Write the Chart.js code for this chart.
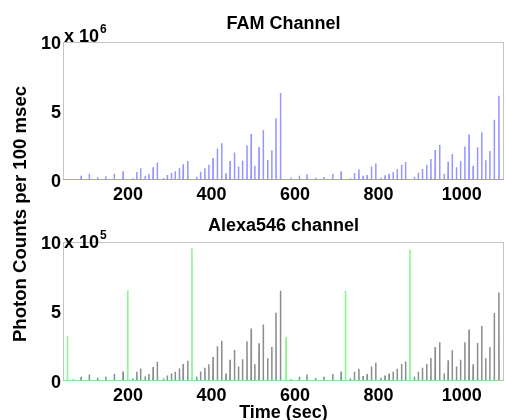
<!DOCTYPE html>
<html><head><meta charset="utf-8">
<script src="https://cdn.jsdelivr.net/npm/chart.js@4.4.0/dist/chart.umd.min.js"></script>
<style>
html,body{margin:0;padding:0;background:#fff;}
#wrap{position:relative;width:506px;height:420px;overflow:hidden;font-family:'Liberation Sans',Arial,sans-serif;}
canvas{position:absolute;left:0;}
.t{position:absolute;font-weight:bold;color:#000;white-space:nowrap;font-family:'Liberation Sans',Arial,sans-serif;}
</style></head><body>
<div id="wrap">
<canvas id="c1" width="506" height="205" style="top:0;width:506px;height:205px"></canvas>
<canvas id="c2" width="506" height="219" style="top:205px;width:506px;height:219px"></canvas>
<div class="t" style="left:63px;width:441px;text-align:center;top:14px;font-size:18px;line-height:18px">FAM Channel</div>
<div class="t" style="left:63px;width:441px;text-align:center;top:216px;font-size:18px;line-height:18px">Alexa546 channel</div>
<div class="t" style="left:64px;top:27px;font-size:18px;line-height:18px">x 10</div>
<div class="t" style="left:100px;top:23px;font-size:12px;line-height:12px">6</div>
<div class="t" style="left:64px;top:233px;font-size:18px;line-height:18px">x 10</div>
<div class="t" style="left:100px;top:229px;font-size:12px;line-height:12px">5</div>
<div class="t" style="left:-129.7px;top:204.5px;width:300px;height:18px;text-align:center;font-size:18.6px;line-height:18px;transform:rotate(-90deg)">Photon Counts per 100 msec</div>
</div>
<script>
// Pulse times (sec), shared by both channels
const spikeTimes = [
  67.5, 87.4, 107, 127, 146.5, 167, 188,
  211, 221, 230, 241, 250, 260, 270, 285, 294, 304, 313, 323, 332, 343,
  364.5, 373.7, 384, 393.5, 403.6, 414, 424.4, 434.7, 444.3, 455, 464.7, 474.3, 485, 495, 503.7, 513.8, 524, 534.6, 544.4, 554.5, 565.3,
  590.7, 610.6, 628.8, 649.5, 669.5, 690.6, 710.6,
  732.7, 742.5, 753.2, 763.3, 773, 783.3, 793.6, 806, 815.8, 825.5, 835.4, 845, 855.5, 865.1,
  886.2, 895.6, 905.5, 915.7, 925.8, 936, 946.8, 957.6, 967.1, 976.9, 987.1, 996.9, 1007.1, 1017.2, 1027, 1037.5, 1047.6, 1057.2, 1067, 1077.7, 1088.8
];
// FAM channel counts (x 10^6)
const famCounts = [
  0.07, 0.3, 0.45, 0.2, 0.27, 0.46, 0.63,
  0.12, 0.58, 0.85, 0.3, 0.46, 0.92, 1.26, 0.15, 0.36, 0.5, 0.63, 0.85, 1.14, 1.38,
  0.24, 0.6, 0.85, 1.1, 1.6, 2.28, 2.66, 0.48, 1.38, 2.0, 0.97, 1.4, 2.52, 3.34, 1.04, 2.4, 3.63, 1.45, 2.15, 4.48, 6.3,
  0.05, 0.3, 0.41, 0.17, 0.22, 0.46, 0.63,
  0.12, 0.5, 0.77, 0.3, 0.36, 0.97, 1.19, 0.17, 0.34, 0.46, 0.58, 0.8, 1.11, 1.31,
  0.24, 0.53, 0.8, 1.09, 1.53, 2.18, 2.54, 0.44, 1.33, 1.89, 0.92, 1.36, 2.42, 3.29, 1.04, 2.37, 3.46, 1.43, 2.1, 4.36, 6.1
];
// Alexa546 channel, gray series (x 10^5)
const alexaGray = [
  0.1, 0.3, 0.47, 0.23, 0.3, 0.5, 0.69,
  0.18, 0.66, 0.9, 0.35, 0.5, 1.0, 1.39, 0.18, 0.4, 0.54, 0.66, 0.9, 1.22, 1.46,
  0.3, 0.69, 0.95, 1.2, 1.72, 2.5, 2.9, 0.54, 1.53, 2.23, 1.05, 1.56, 2.86, 3.78, 1.2, 2.72, 4.07, 1.63, 2.45, 4.91, 6.49,
  0.12, 0.3, 0.47, 0.22, 0.3, 0.5, 0.69,
  0.18, 0.66, 0.88, 0.35, 0.5, 1.05, 1.32, 0.23, 0.4, 0.54, 0.66, 0.88, 1.22, 1.41,
  0.3, 0.66, 0.95, 1.22, 1.66, 2.45, 2.79, 0.54, 1.49, 2.21, 1.05, 1.53, 2.79, 3.71, 1.2, 2.74, 3.95, 1.63, 2.43, 4.89, 6.36
];
// Alexa546 channel, green series (x 10^5)
const greenTimes = [54.6, 199, 353, 578.5, 721, 875.5];
const greenCounts = [3.22, 6.53, 9.55, 3.17, 6.49, 9.46];

const xTicks = [200, 400, 600, 800, 1000];
const yTicks = [0, 5, 10];
const X_MIN = 44, X_MAX = 1101;
const PULSE_HALF = 0.4; // half of one sample interval (sec)

const FONT = "'Liberation Sans', Arial, sans-serif";

function pulseSeries(times, vals) {
  const pts = [{x: X_MIN, y: 0}];
  times.forEach((t, i) => {
    pts.push({x: t - PULSE_HALF, y: 0}, {x: t, y: vals[i]}, {x: t + PULSE_HALF, y: 0});
  });
  pts.push({x: X_MAX, y: 0});
  return pts;
}

const boxPlugin = {
  id: 'box',
  beforeDatasetsDraw(chart) {
    const {ctx, chartArea: a} = chart;
    ctx.save();
    ctx.strokeStyle = '#c4c4c4';
    ctx.lineWidth = 1;
    ctx.strokeRect(a.left + 0.5, a.top + 0.5, a.width - 1, a.height - 1);
    ctx.restore();
  }
};

function makeOpts(padTop, xAxisH, showXTitle) {
  const tickFont = {family: FONT, size: 18, weight: 'bold'};
  return {
    responsive: false,
    animation: false,
    layout: {padding: {top: padTop, right: 2, left: 0, bottom: 0}},
    plugins: {legend: {display: false}, tooltip: {enabled: false}, title: {display: false}},
    elements: {point: {radius: 0}, line: {tension: 0}},
    scales: {
      x: {
        type: 'linear', min: X_MIN, max: X_MAX,
        grid: {display: false, drawTicks: false},
        border: {display: false},
        ticks: {font: tickFont, color: '#000', padding: 4, maxRotation: 0, autoSkip: false,
                callback: v => String(v)},
        afterBuildTicks: s => { s.ticks = xTicks.map(v => ({value: v})); },
        afterFit: s => { s.height = xAxisH; },
        title: {display: showXTitle, text: 'Time (sec)', font: tickFont, color: '#000', padding: {top: 0, bottom: 0}}
      },
      y: {
        min: 0, max: 10,
        grid: {display: false, drawTicks: false},
        border: {display: false},
        ticks: {font: tickFont, color: '#000', padding: 2, labelOffset: 2, callback: v => String(v)},
        afterBuildTicks: s => { s.ticks = yTicks.map(v => ({value: v})); },
        afterFit: s => { s.width = 63; }
      }
    }
  };
}

new Chart(document.getElementById('c1'), {
  type: 'line',
  data: {datasets: [{
    data: pulseSeries(spikeTimes, famCounts),
    borderColor: 'rgb(150,150,255)', borderWidth: 1.5, fill: false
  }]},
  options: makeOpts(42, 25, false),
  plugins: [boxPlugin]
});

new Chart(document.getElementById('c2'), {
  type: 'line',
  data: {datasets: [
    {data: pulseSeries(greenTimes, greenCounts), borderColor: 'rgb(140,245,140)', borderWidth: 1.6, fill: false},
    {data: pulseSeries(spikeTimes, alexaGray), borderColor: 'rgb(140,140,140)', borderWidth: 1.5, fill: false}
  ]},
  options: makeOpts(37, 43, true),
  plugins: [boxPlugin]
});
</script>
</body></html>
